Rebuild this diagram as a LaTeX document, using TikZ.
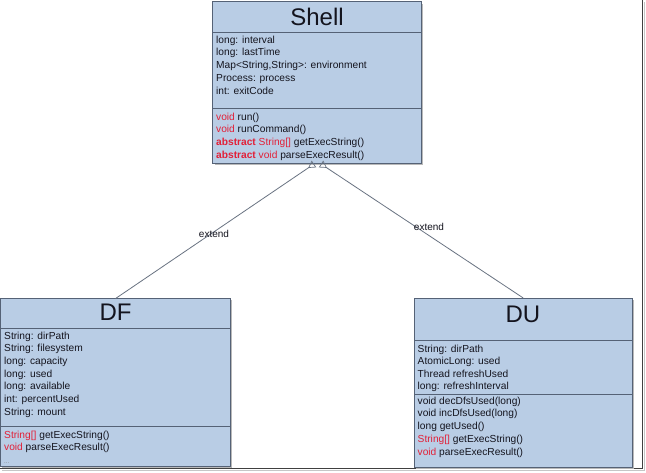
\documentclass[tikz,border=0pt]{standalone}
\usepackage{fontspec}
\setmainfont{Liberation Sans}
\usetikzlibrary{arrows.meta}
\definecolor{boxfill}{RGB}{185,205,229}
\definecolor{boxline}{RGB}{85,98,118}
\definecolor{kw}{RGB}{226,32,56}
\definecolor{txtc}{RGB}{20,20,30}
\definecolor{connc}{RGB}{105,115,130}
\begin{document}
\begin{tikzpicture}[x=1pt,y=-1pt,
  box/.style={draw=boxline, fill=boxfill, line width=0.7pt, rectangle, inner sep=0pt, outer sep=0pt, anchor=north west},
  shadowbox/.style={fill=gray!55, draw=none},
  sep/.style={draw=boxline, line width=0.7pt},
  txt/.style={anchor=base west, inner sep=0pt, text=txtc, font=\fontsize{10.2}{11}\selectfont},
  ttl/.style={anchor=base, inner sep=0pt, text=txtc, font=\fontsize{24}{26}\selectfont},
  lbl/.style={inner sep=0pt, text=txtc, font=\fontsize{10}{11}\selectfont},
  conn/.style={draw=connc, line width=0.8pt, -{Triangle[open,reversed,length=7pt,width=8pt,line width=0.7pt]}}]
\useasboundingbox (0,0) rectangle (646,472);
\fill[white] (0,0) rectangle (646,472);
% frame of the screenshot
\draw[gray!45, line width=1pt] (644.5,2) -- (644.5,470.5) -- (2,470.5);
\draw[black!75, line width=1.2pt] (642.5,0) -- (642.5,468.5) -- (0,468.5);

% ---------- Shell ----------
\fill[shadowbox] (214.5,3.5) rectangle (423,165.2);
\node[box, minimum width=208.8pt, minimum height=161.8pt] (shell) at (212.7,1.7) {};
\draw[sep] (212.7,32.3) -- (421.5,32.3);
\draw[sep] (212.7,108.3) -- (421.5,108.3);
\node[ttl] (shellt) at (317,25) {Shell};
\node[txt] (s1) at (216,43) {long: interval};
\node[txt] (s2) at (216,55.75) {long: lastTime};
\node[txt] (s3) at (216,68.5) {Map<String,String>: environment};
\node[txt] (s4) at (216,81.25) {Process: process};
\node[txt] (s5) at (216,94) {int: exitCode};
\node[txt] (s6) at (216,120) {\textcolor{kw}{void} run()};
\node[txt] (s7) at (216,132.75) {\textcolor{kw}{void} runCommand()};
\node[txt] (s8) at (216,145.5) {\textcolor{kw}{\textbf{abstract} String[]} getExecString()};
\node[txt] (s9) at (216,158.25) {\textcolor{kw}{\textbf{abstract} void} parseExecResult()};

% ---------- DF ----------
\fill[shadowbox] (2.2,300) rectangle (232,468);
\node[box, minimum width=229.8pt, minimum height=168pt] (df) at (0.7,298.5) {};
\draw[sep] (0.7,328.3) -- (230.5,328.3);
\draw[sep] (0.7,426.7) -- (230.5,426.7);
\node[ttl] (dft) at (115.5,320) {DF};
\node[txt] (d1) at (4,339) {String: dirPath};
\node[txt] (d2) at (4,351.7) {String: filesystem};
\node[txt] (d3) at (4,364.3) {long: capacity};
\node[txt] (d4) at (4,377) {long: used};
\node[txt] (d5) at (4,389.7) {long: available};
\node[txt] (d6) at (4,402.3) {int: percentUsed};
\node[txt] (d7) at (4,415) {String: mount};
\node[txt] (d8) at (4,438) {\textcolor{kw}{String[]} getExecString()};
\node[txt] (d9) at (4,450.7) {\textcolor{kw}{void} parseExecResult()};
\node[txt, text=gray, font=\fontsize{6}{7}\selectfont] (d10) at (4,463) {...};

% ---------- DU ----------
\fill[shadowbox] (415.5,299.5) rectangle (634,468.5);
\node[box, minimum width=218.5pt, minimum height=169pt] (du) at (414,298) {};
\draw[sep] (414,340) -- (632.5,340);
\draw[sep] (414,394) -- (632.5,394);
\node[ttl] (dut) at (523,322) {DU};
\node[txt] (u1) at (417.5,352) {String: dirPath};
\node[txt] (u2) at (417.5,364.5) {AtomicLong: used};
\node[txt] (u3) at (417.5,377) {Thread refreshUsed};
\node[txt] (u4) at (417.5,389.5) {long: refreshInterval};
\node[txt] (u5) at (417.5,404) {void decDfsUsed(long)};
\node[txt] (u6) at (417.5,416.75) {void incDfsUsed(long)};
\node[txt] (u7) at (417.5,429.5) {long getUsed()};
\node[txt] (u8) at (417.5,442.25) {\textcolor{kw}{String[]} getExecString()};
\node[txt] (u9) at (417.5,455) {\textcolor{kw}{void} parseExecResult()};

% ---------- connectors ----------
\coordinate (sL) at (314,164);
\coordinate (sR) at (321,164);
\draw[conn] (df.north) -- (sL);
\draw[conn] (du.north) -- (sR);
\node[lbl] (e1) at (214,234) {extend};
\node[lbl] (e2) at (429,227) {extend};
\end{tikzpicture}
\end{document}
